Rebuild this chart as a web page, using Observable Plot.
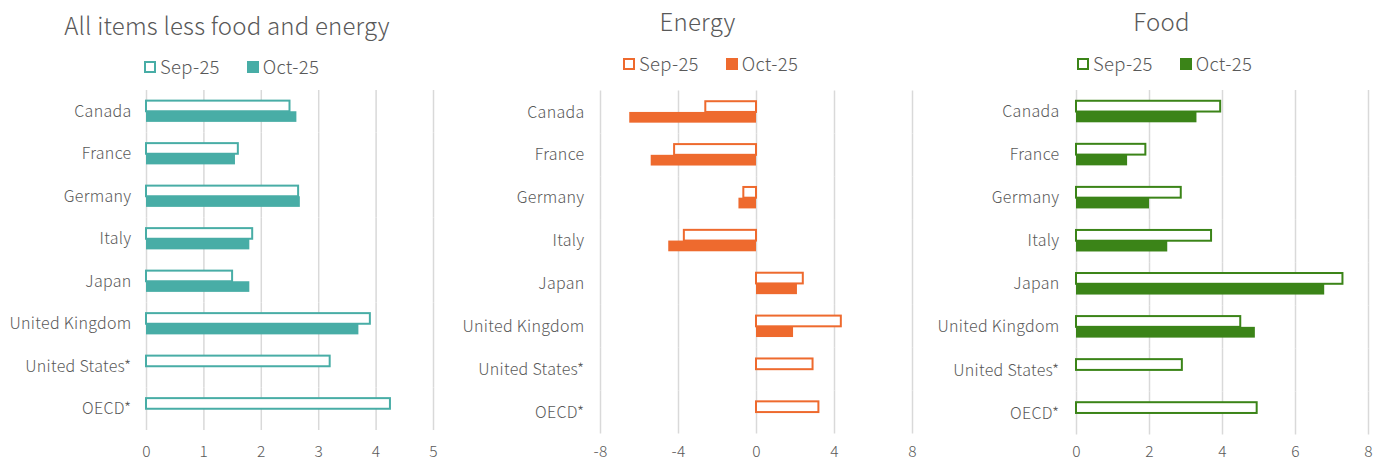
<!DOCTYPE html>
<html><head><meta charset="utf-8">
<script src="https://cdn.jsdelivr.net/npm/d3@7"></script>
<script src="https://cdn.jsdelivr.net/npm/@observablehq/plot@0.6"></script>
<style>
body{margin:0;background:#fff;font-family:"Noto Sans CJK JP","Noto Sans",sans-serif;font-weight:300;color:#595959;}
#root{position:relative;width:1373px;height:461px;overflow:hidden;background:#fff;}
.abs{position:absolute;}
.title{position:absolute;white-space:nowrap;transform:translateX(-50%);font-size:24px;line-height:24px;color:#595959;letter-spacing:0.2px;}
.legend{position:absolute;white-space:nowrap;font-size:18.5px;line-height:19px;color:#595959;display:flex;align-items:center;letter-spacing:0.3px;}
.sw{display:inline-block;width:12px;height:12px;box-sizing:border-box;margin-right:4px;}
.item{display:inline-flex;align-items:center;}
svg text{font-weight:300;}
</style></head><body><div id="root"></div>
<script>
const countries = ["Canada","France","Germany","Italy","Japan","United Kingdom","United States*","OECD*"];
const months = ["Sep-25","Oct-25"];
const titles = ["All items less food and energy","Energy","Food"];
const coreSep = [2.5,1.6,2.65,1.85,1.5,3.9,3.2,4.25];
const coreOct = [2.62,1.55,2.68,1.8,1.8,3.7,null,null];
const energySep = [-2.6,-4.2,-0.65,-3.7,2.4,4.35,2.9,3.2];
const energyOct = [-6.5,-5.4,-0.9,-4.5,2.1,1.9,null,null];
const foodSep = [3.95,1.9,2.87,3.7,7.3,4.5,2.9,4.95];
const foodOct = [3.3,1.4,2.0,2.5,6.8,4.9,null,null];
const coreTicks = [0,1,2,3,4,5];
const energyTicks = [-8,-4,0,4,8];
const foodTicks = [0,2,4,6,8];

const root = document.getElementById("root");

function makePanel(cfg){
  const data = [];
  countries.forEach((c,i)=>{
    data.push({country:c, month:months[0], value:cfg.sep[i]});
    if (cfg.oct[i] != null) data.push({country:c, month:months[1], value:cfg.oct[i]});
  });
  const plot = Plot.plot({
    width: cfg.width, height: 376,
    marginLeft: cfg.mL, marginRight: cfg.mR, marginTop: cfg.mT, marginBottom: cfg.mB,
    style:{fontFamily:'"Noto Sans CJK JP","Noto Sans",sans-serif', color:"#595959", background:"transparent", overflow:"visible"},
    x:{domain: cfg.domain, axis:null},
    y:{domain: months, axis:null, paddingInner:0, paddingOuter:1, round:false},
    fy:{domain: countries, padding:0, round:false},
    marks:[
      Plot.gridX(cfg.ticks, {stroke:"#d9d9d9", strokeOpacity:1, strokeWidth:1.5}),
      Plot.barX(data.filter(d=>d.month===months[0]), {x:"value", y:"month", fy:"country", fill:"white", stroke:cfg.color, strokeWidth:2}),
      Plot.barX(data.filter(d=>d.month===months[1]), {x:"value", y:"month", fy:"country", fill:cfg.color}),
      Plot.axisX({ticks: cfg.ticks, tickSize:0, tickPadding:cfg.tickPad, fontSize:15.5, tickFormat:d=>String(d), label:null}),
      Plot.axisFy({anchor:"left", tickSize:0, tickPadding:cfg.labelPad, fontSize:16, label:null})
    ]
  });
  plot.querySelectorAll("text").forEach(t=>t.setAttribute("letter-spacing","0.3"));
  const wrap = document.createElement("div");
  wrap.className = "abs";
  wrap.style.left = cfg.left + "px";
  wrap.style.top = "85px";
  wrap.appendChild(plot);
  root.appendChild(wrap);

  const t = document.createElement("div");
  t.className = "title";
  t.textContent = cfg.title;
  t.style.left = cfg.titleX + "px";
  t.style.top = cfg.titleTop + "px";
  root.appendChild(t);

  const lg = document.createElement("div");
  lg.className = "legend";
  lg.style.left = cfg.legendX + "px";
  lg.style.top = cfg.legendTop + "px";
  months.forEach((m,i)=>{
    const it = document.createElement("span");
    it.className = "item";
    if (i>0) it.style.marginLeft = "27px";
    const sw = document.createElement("span");
    sw.className = "sw";
    if (i===0){ sw.style.border = "2px solid " + cfg.color; sw.style.background = "#fff"; }
    else { sw.style.background = cfg.color; }
    it.appendChild(sw);
    const tx = document.createElement("span");
    tx.textContent = m;
    it.appendChild(tx);
    lg.appendChild(it);
  });
  root.appendChild(lg);
}

makePanel({title:titles[0], sep:coreSep, oct:coreOct, ticks:coreTicks, domain:[0,5], color:"#48ADA6",
  left:0, width:460, mL:146, mR:27, mT:5, mB:31, tickPad:15, labelPad:15,
  titleX:227, titleTop:13, legendX:144, legendTop:57});
makePanel({title:titles[1], sep:energySep, oct:energyOct, ticks:energyTicks, domain:[-8,8], color:"#EE6A2E",
  left:460, width:460, mL:140, mR:8, mT:5.5, mB:27.5, tickPad:12, labelPad:16,
  titleX:697.5, titleTop:9, legendX:623, legendTop:54});
makePanel({title:titles[2], sep:foodSep, oct:foodOct, ticks:foodTicks, domain:[0,8], color:"#3B8418",
  left:920, width:453, mL:156, mR:5, mT:5, mB:26.5, tickPad:11, labelPad:17,
  titleX:1161.5, titleTop:9, legendX:1077, legendTop:54});
</script>
</body></html>
